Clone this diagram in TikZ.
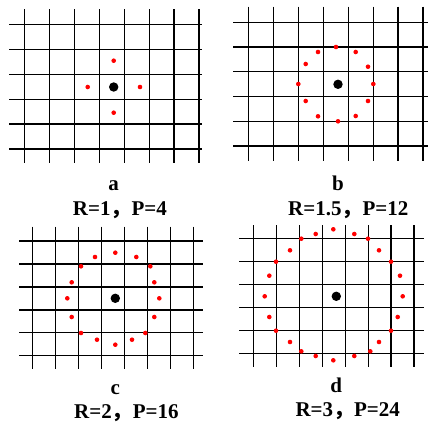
\documentclass[tikz,border=0pt]{standalone}
\usepackage{fontspec}
\setmainfont{Liberation Serif}
\newfontfamily\cjk{Noto Sans CJK SC}
\tikzset{
  gridline/.style={line width=1.3pt, black},
  reddot/.style={fill=red},
  centerdot/.style={fill=black},
  lbl/.style={font=\fontsize{21}{24}\selectfont\bfseries, inner sep=0pt},
}
\newcommand\mygrid[8]{%
  \foreach \k in {0,...,7} \draw[gridline] ({#1+\k*#2},#5) -- ({#1+\k*#2},#6);
  \foreach \k in {0,...,5} \draw[gridline] (#7,{#3+\k*#4}) -- (#8,{#3+\k*#4});
}
\newcommand\rdots[1]{\foreach \p in {#1} \fill[reddot] (\p) circle[radius=2.3pt];}
\begin{document}
\begin{tikzpicture}[x=1pt,y=-1pt]
\useasboundingbox (0,0) rectangle (428,423);
% panel a
\mygrid{24.4}{24.95}{24.3}{24.95}{9.3}{163}{9}{201.7}
\rdots{{113.7,60.7},{87.7,87},{140,87},{113.7,112.7}}
\fill[centerdot] (113.7,87) circle[radius=4.7pt];
\node[lbl, anchor=base] (la) at (113.7,190.7) {a};
\node[lbl, anchor=base west] (ra) at (72.7,215.7) {R=1{\cjk ，}P=4};
% panel b
\mygrid{248.7}{24.9}{22.3}{24.75}{6.7}{161}{233.3}{428}
\rdots{{336,47},{355.7,52},{368,66.7},{373.3,84},{368,101},{355.7,116},{338,121.3},{318,116.3},{305.7,101},{298.3,84},{305.7,64},{318,52}}
\fill[centerdot] (338,84.3) circle[radius=4.7pt];
\node[lbl, anchor=base] (lb) at (338,190) {b};
\node[lbl, anchor=base west] (rb) at (288,215.5) {R=1.5{\cjk ，}P=12};
% panel c
\mygrid{32.7}{23}{241}{22.95}{226.7}{369.3}{19}{202.7}
\rdots{{115.3,252.7},{136.3,257},{150.3,266.3},{154.3,282.3},{159.3,298.3},{154.3,317},{145.3,333},{132,339.7},{115.3,344.7},{97,339.7},{81,333},{71.7,317},{67.3,298.3},{71.7,282.3},{81,266.3},{95,257}}
\fill[centerdot] (115.3,298.3) circle[radius=4.7pt];
\node[lbl, anchor=base] (lc) at (115.3,394) {c};
\node[lbl, anchor=base west] (rc) at (74,418.3) {R=2{\cjk ，}P=16};
% panel d
\mygrid{253.7}{22.9}{238.3}{23.07}{225}{367.3}{239}{424}
\rdots{{333.3,229.3},{354.3,234},{368,238.7},{379,250.3},{391,261.7},{400,275.7},{402.7,296.3},{397.7,317},{391,330.7},{379,342},{370.3,351.3},{354.3,356},{333.3,360.3},{315.7,356},{301.3,351.3},{290,342},{276,330.7},{269.3,317},{264.7,296.3},{269.3,275.7},{276,261.7},{290,250.3},{301.3,238.7},{315.7,234}}
\fill[centerdot] (336.3,296.3) circle[radius=4.7pt];
\node[lbl, anchor=base] (ld) at (336.3,392.7) {d};
\node[lbl, anchor=base west] (rd) at (295.3,416) {R=3{\cjk ，}P=24};
\end{tikzpicture}
\end{document}
